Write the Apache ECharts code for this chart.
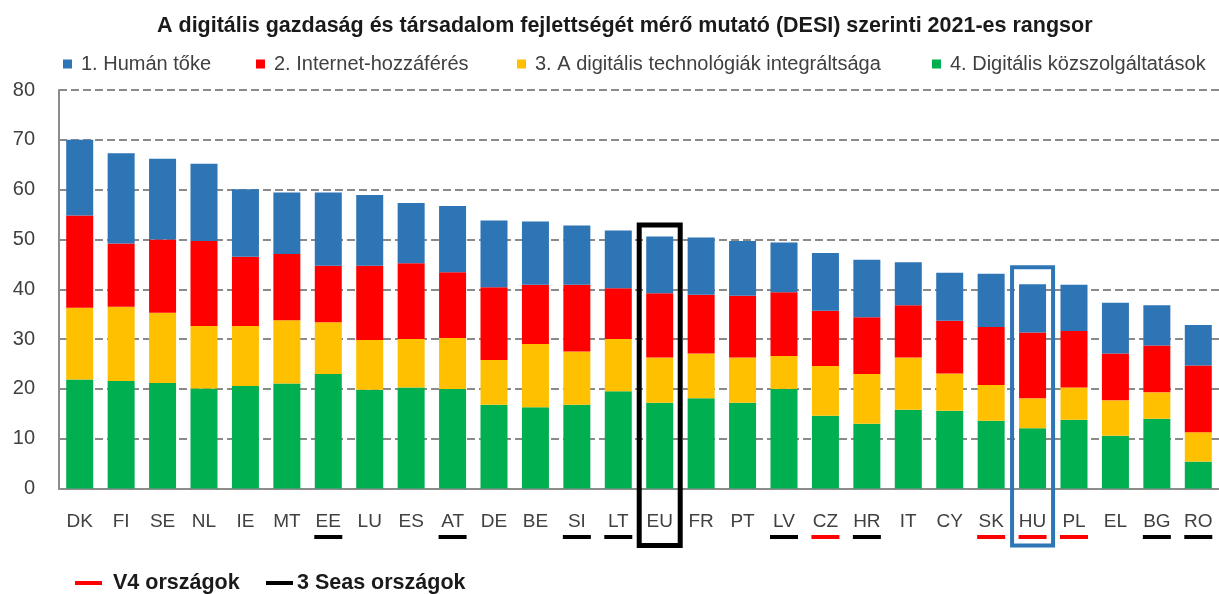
<!DOCTYPE html>
<html>
<head>
<meta charset="utf-8">
<script src="https://cdn.jsdelivr.net/npm/echarts@6/dist/echarts.min.js"></script>
<style>
html,body{margin:0;padding:0;background:#fff;}
#chart{width:1219px;height:594px;}
</style>
</head>
<body>
<div id="chart"></div>
<script>
// ---- data ----
const titleText = 'A digitális gazdaság és társadalom fejlettségét mérő mutató (DESI) szerinti 2021-es rangsor';
const categories = ['DK','FI','SE','NL','IE','MT','EE','LU','ES','AT','DE','BE','SI','LT','EU','FR','PT','LV','CZ','HR','IT','CY','SK','HU','PL','EL','BG','RO'];
const seriesNames = ['1. Humán tőke','2. Internet-hozzáférés','3. A digitális technológiák integráltsága','4. Digitális közszolgáltatások'];
const humanCapital   = [15.2,18.1,16.2,15.5,13.6,12.3,14.7,14.2,12.1,13.3,13.4,12.7,11.9,11.6,11.4,11.5,11.0,10.0,11.6,11.5,8.6,9.6,10.7,9.7,9.3,10.2,8.1,8.1];
const connectivity   = [18.5,12.7,14.7,17.1,13.9,13.3,11.3,14.9,15.2,13.2,14.6,11.9,13.4,10.2,12.9,11.8,12.4,12.8,11.1,11.4,10.5,10.6,11.6,13.2,11.3,9.4,9.4,13.4];
const integration    = [14.4,14.9,14.1,12.5,12.0,12.7,10.4,10.0,9.7,10.2,9.0,12.7,10.7,10.5,9.1,9.0,9.1,6.6,10.0,10.0,10.5,7.5,7.2,6.0,6.5,7.1,5.3,5.9];
const publicServices = [21.9,21.6,21.2,20.1,20.6,21.1,23.0,19.8,20.3,20.0,16.8,16.3,16.8,19.5,17.2,18.1,17.2,20.0,14.6,13.0,15.8,15.6,13.6,12.1,13.8,10.6,14.0,5.4];
const yTicks = [0,10,20,30,40,50,60,70,80];
const v4Countries = ['CZ','SK','HU','PL'];
const threeSeasCountries = ['EE','AT','SI','LT','LV','HR','BG','RO'];
const highlightBoxes = [{cat:'EU', top:52.9, color:'#000000', width:5},{cat:'HU', top:44.4, color:'#2E75B6', width:4}];
const bottomLegend = [{label:'V4 országok', color:'#FF0000'},{label:'3 Seas országok', color:'#000000'}];

// ---- styles ----
const FONT = '"Liberation Sans", Arial, sans-serif';
const colors = {blue:'#2E75B6', red:'#FF0000', yellow:'#FFC000', green:'#00B050'};
const textColor = '#404040';

const chart = echarts.init(document.getElementById('chart'));

function legendAt(name, left){
  return {
    data:[{name:name, icon:'rect'}],
    left:left, top:54, itemWidth:9, itemHeight:9, padding:0,
    selectedMode:false,
    textStyle:{fontFamily:FONT, fontSize:20, color:textColor, padding:[0,0,0,4]}
  };
}

const option = {
  animation:false,
  backgroundColor:'#ffffff',
  title:{
    text:titleText, left:157, top:15, padding:0,
    textStyle:{fontFamily:FONT, fontSize:21.5, fontWeight:'bold', color:'#1a1a1a'}
  },
  legend:[
    legendAt(seriesNames[0], 63),
    legendAt(seriesNames[1], 256),
    legendAt(seriesNames[2], 517),
    legendAt(seriesNames[3], 932)
  ],
  grid:{left:59, right:-3, top:90, bottom:105.5, containLabel:false},
  xAxis:{
    type:'category', data:categories,
    axisLine:{show:true, lineStyle:{color:'#8c8c8c', width:2}},
    axisTick:{show:false},
    axisLabel:{fontFamily:FONT, fontSize:19, color:textColor, margin:24, interval:0}
  },
  yAxis:{
    type:'value', min:yTicks[0], max:yTicks[yTicks.length-1], interval:yTicks[1]-yTicks[0],
    axisLine:{show:true, lineStyle:{color:'#8c8c8c', width:2}},
    axisTick:{show:false},
    axisLabel:{fontFamily:FONT, fontSize:20, color:textColor, margin:24},
    splitLine:{show:true, lineStyle:{color:'#8a8a8a', width:2, type:[8,4]}}
  },
  series:[
    {name:seriesNames[3], type:'bar', stack:'desi', data:publicServices, barWidth:27, itemStyle:{color:colors.green}},
    {name:seriesNames[2], type:'bar', stack:'desi', data:integration, barWidth:27, itemStyle:{color:colors.yellow}},
    {name:seriesNames[1], type:'bar', stack:'desi', data:connectivity, barWidth:27, itemStyle:{color:colors.red}},
    {name:seriesNames[0], type:'bar', stack:'desi', data:humanCapital, barWidth:27, itemStyle:{color:colors.blue}}
  ]
};
chart.setOption(option);

// ---- annotations positioned through the chart's scales ----
const graphics = [];
const zeroY = chart.convertToPixel({gridIndex:0}, [categories[0], 0])[1];
const underlineY = zeroY + 48.5;
function catX(c){ return chart.convertToPixel({gridIndex:0}, [c, 0])[0]; }
function addUnderline(c, color){
  const x = catX(c);
  graphics.push({type:'rect', silent:true, shape:{x:x-14, y:underlineY-2, width:28, height:4}, style:{fill:color}, z:100});
}
v4Countries.forEach(c => addUnderline(c, '#FF0000'));
threeSeasCountries.forEach(c => addUnderline(c, '#000000'));
highlightBoxes.forEach(b => {
  const p = chart.convertToPixel({gridIndex:0}, [b.cat, b.top]);
  const half = 20.5;
  graphics.push({type:'rect', silent:true,
    shape:{x:p[0]-half, y:p[1], width:half*2, height:(zeroY+57)-p[1]},
    style:{fill:'none', stroke:b.color, lineWidth:b.width}, z:110});
});
// bottom legend
const legY = 583;
const legPos = [{dash:75, text:113},{dash:266, text:297}];
bottomLegend.forEach((l,i) => {
  graphics.push({type:'rect', silent:true, shape:{x:legPos[i].dash, y:legY-2, width:27, height:4}, style:{fill:l.color}});
  graphics.push({type:'text', silent:true, x:legPos[i].text, y:legY,
    style:{text:l.label, fontFamily:FONT, fontSize:21.5, fontWeight:'bold', fill:'#1a1a1a', verticalAlign:'middle', align:'left'}});
});
chart.setOption({graphic:graphics});
</script>
</body>
</html>
